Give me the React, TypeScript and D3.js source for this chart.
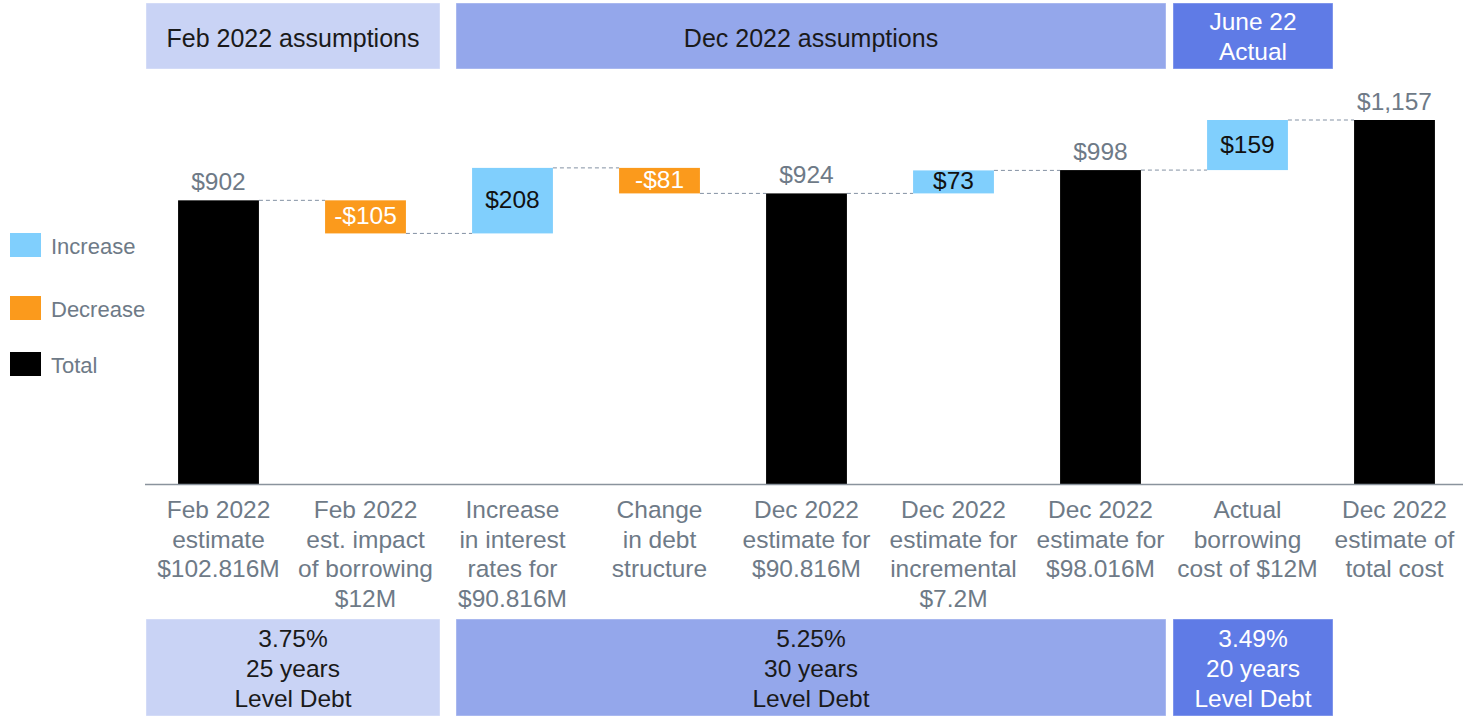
import React from "react";
import * as d3 from "d3";

const categories = [
  "Feb 2022\nestimate\n$102.816M",
  "Feb 2022\nest. impact\nof borrowing\n$12M",
  "Increase\nin interest\nrates for\n$90.816M",
  "Change\nin debt\nstructure",
  "Dec 2022\nestimate for\n$90.816M",
  "Dec 2022\nestimate for\nincremental\n$7.2M",
  "Dec 2022\nestimate for\n$98.016M",
  "Actual\nborrowing\ncost of $12M",
  "Dec 2022\nestimate of\ntotal cost",
];
const values = [902, -105, 208, -81, 924, 73, 998, 159, 1157];
const kinds = ["total", "decrease", "increase", "decrease", "total", "increase", "total", "increase", "total"];
const valueLabels = ["$902", "-$105", "$208", "-$81", "$924", "$73", "$998", "$159", "$1,157"];

const groupNames = ["Feb 2022 assumptions", "Dec 2022 assumptions", "June 22\nActual"];
const groupNotes = ["3.75%\n25 years\nLevel Debt", "5.25%\n30 years\nLevel Debt", "3.49%\n20 years\nLevel Debt"];
const groupSpans = [[0, 1], [2, 6], [7, 7]];

const legendItems = ["Increase", "Decrease", "Total"];

const W = 1463;
const H = 716;
const FONT = "'Liberation Sans', Arial, sans-serif";
const colors: Record<string, string> = { increase: "#80cffd", decrease: "#fb9a1c", total: "#000000" };
const groupFill = ["#c9d3f5", "#94a7eb", "#5f7be6"];
const groupText = ["#1a1a1a", "#1a1a1a", "#ffffff"];
const grayText = "#6e7a87";

export default function App() {
  const x = d3.scaleBand<number>().domain(d3.range(categories.length)).range([145, 1468]).paddingInner(0.45).paddingOuter(0.225);
  const y = d3.scaleLinear().domain([0, 1157]).range([484.5, 120]);
  const step = x.step();
  const bw = x.bandwidth();

  let running = 0;
  const bars = values.map((v, i) => {
    let start: number, end: number;
    if (kinds[i] === "total") {
      start = 0;
      end = v;
    } else {
      start = running;
      end = running + v;
    }
    running = end;
    return { i, start, end, kind: kinds[i], label: valueLabels[i] };
  });

  const slotStart = (i: number) => (x(i) as number) - (step - bw) / 2;
  const slotEnd = (i: number) => (x(i) as number) + bw + (step - bw) / 2;
  const boxAdj = [[1, 1], [17, -8], [-1, 12]];
  const boxes = groupSpans.map(([a, b], g) => ({
    x0: slotStart(a) + boxAdj[g][0],
    x1: slotEnd(b) + boxAdj[g][1],
  }));

  return (
    <svg width={W} height={H} style={{ position: "absolute", left: 0, top: 0, fontFamily: FONT }}>
      <rect width={W} height={H} fill="#fff" />
      {boxes.map((b, g) => {
        const lines = groupNames[g].split("\n");
        const notes = groupNotes[g].split("\n");
        const cx = (b.x0 + b.x1) / 2;
        return (
          <g key={g}>
            <rect x={b.x0} y={3} width={b.x1 - b.x0} height={66} fill={groupFill[g]} stroke="#ffffff" strokeOpacity={0.4} />
            {lines.map((l, k) => (
              <text key={k} x={cx} y={lines.length === 1 ? 46.5 : 29.5 + k * 30} textAnchor="middle" fontSize={lines.length === 1 ? 25 : 24.5} fill={groupText[g]}>
                {l}
              </text>
            ))}
            <rect x={b.x0} y={619} width={b.x1 - b.x0} height={H - 619} fill={groupFill[g]} stroke="#ffffff" strokeOpacity={0.4} />
            {notes.map((l, k) => (
              <text key={k} x={cx} y={646.5 + k * 30} textAnchor="middle" fontSize={24.5} fill={groupText[g]}>
                {l}
              </text>
            ))}
          </g>
        );
      })}

      {bars.slice(0, -1).map((b, i) => {
        const next = bars[i + 1];
        const lvl = b.end;
        return (
          <line
            key={i}
            x1={(x(i) as number) + bw}
            x2={x(next.i) as number}
            y1={y(lvl)}
            y2={y(lvl)}
            stroke="#8391a3"
            strokeWidth={1}
            strokeDasharray="4 3"
          />
        );
      })}

      {bars.map((b) => {
        const top = y(Math.max(b.start, b.end));
        const bot = y(Math.min(b.start, b.end));
        const cx = (x(b.i) as number) + bw / 2;
        return (
          <g key={b.i}>
            <rect x={x(b.i)} y={top} width={bw} height={bot - top} fill={colors[b.kind]} />
            {b.kind === "total" ? (
              <text x={cx} y={top - 10} textAnchor="middle" fontSize={24.5} fill={grayText}>
                {b.label}
              </text>
            ) : (
              <text
                x={cx}
                y={(top + bot) / 2 + 7.5}
                textAnchor="middle"
                fontSize={24.5}
                fill={b.kind === "increase" ? "#111" : "#fff"}
              >
                {b.label}
              </text>
            )}
          </g>
        );
      })}

      <line x1={145} x2={W} y1={y(0)} y2={y(0)} stroke="#8a939d" strokeWidth={1.5} />

      {categories.map((c, i) => {
        const cx = (x(i) as number) + bw / 2;
        return (
          <text key={i} textAnchor="middle" fontSize={24.5} fill={grayText}>
            {c.split("\n").map((l, k) => (
              <tspan key={k} x={cx} y={518 + k * 29.6}>
                {l}
              </tspan>
            ))}
          </text>
        );
      })}

      {legendItems.map((l, k) => {
        const yc = [245, 308, 364][k];
        const key = l.toLowerCase();
        return (
          <g key={k}>
            <rect x={10} y={yc - 12} width={31} height={24} fill={colors[key]} />
            <text x={51} y={yc + 8.5} fontSize={22} fill={grayText}>
              {l}
            </text>
          </g>
        );
      })}
    </svg>
  );
}
